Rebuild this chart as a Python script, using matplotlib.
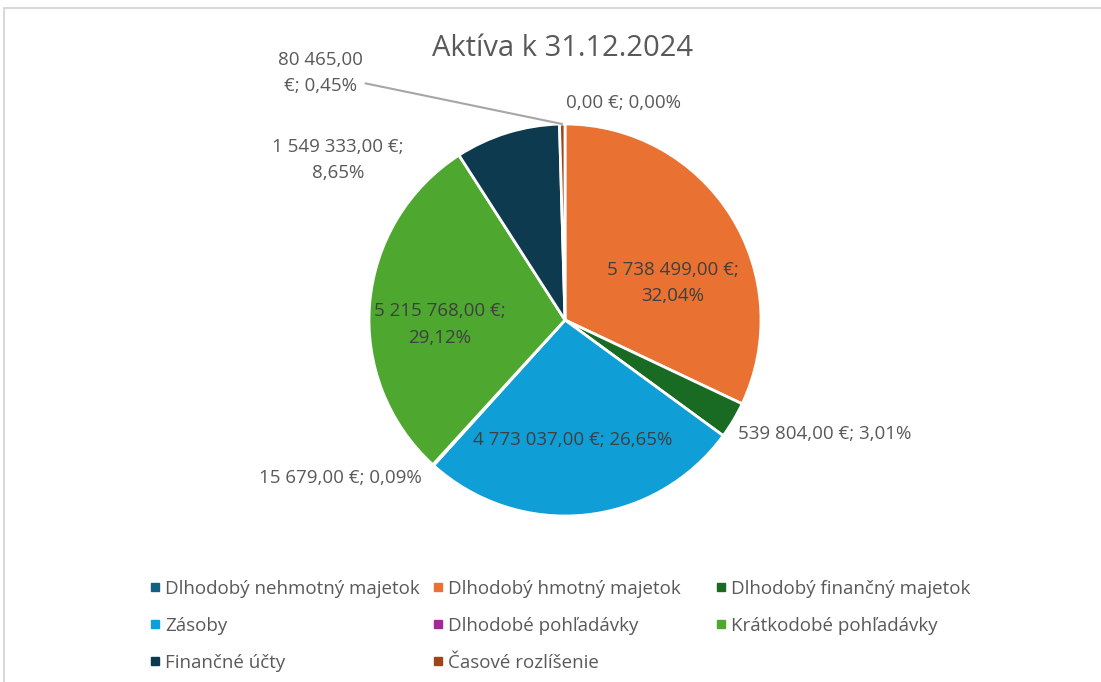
import numpy as np
import matplotlib
matplotlib.use("Agg")
import matplotlib.pyplot as plt
from matplotlib.lines import Line2D
from matplotlib.patches import Rectangle

# data
categories = ["Dlhodobý nehmotný majetok", "Dlhodobý hmotný majetok", "Dlhodobý finančný majetok",
              "Zásoby", "Dlhodobé pohľadávky", "Krátkodobé pohľadávky",
              "Finančné účty", "Časové rozlíšenie"]
values = [0.00, 5738499.00, 539804.00, 4773037.00, 15679.00, 5215768.00, 1549333.00, 80465.00]
colors = ["#156082", "#E97132", "#196B24", "#0F9ED5", "#A02B93", "#4EA72E", "#0E3A4F", "#A0441A"]
title = "Aktíva k 31.12.2024"

plt.rcParams['font.family'] = ['Open Sans', 'DejaVu Sans']
W, H = 1101, 682
fig = plt.figure(figsize=(W / 100, H / 100), dpi=100)
ax = fig.add_axes([0, 0, 1, 1])

cx, cy, R = 565, H - 320, 196
wedges, _ = ax.pie(values, colors=colors, startangle=90, counterclock=False,
                   center=(cx, cy), radius=R, frame=True,
                   wedgeprops=dict(edgecolor="white", linewidth=2))
ax.set_xlim(0, W)
ax.set_ylim(0, H)
ax.set_aspect('equal')
ax.axis('off')

total = sum(values)


def fmt(v):
    s = f"{v:,.2f}".replace(",", " ").replace(".", ",")
    return s + " €"


def pct(v):
    return f"{100 * v / total:.2f}".replace(".", ",") + "%"


# label placement per slice: (radial factor, dx px, dy px (down), ha, layout, inside)
place = {
    0: (1.0, 58, -21, "center", "one", False),
    1: (0.58, 12, 24, "center", "two", True),
    2: (1.0, 5, 14, "left", "one", False),
    3: (0.61, -5, 1, "center", "one", True),
    4: (1.0, -11, 13, "right", "one", False),
    5: (0.64, 0, 15, "center", "two", True),
    6: (1.0, -169, 27, "center", "two", False),
    7: (1.0, -242, -51, "center", "split", False),
}

fs = 13.5
cum = 0.0
for i, v in enumerate(values):
    mid = (cum + v / 2) / total
    cum += v
    rf, dx, dy, ha, lay, inside = place[i]
    ang = np.deg2rad(mid * 360)
    ex = cx + R * np.sin(ang)
    ey = cy + R * np.cos(ang)
    x = cx + rf * R * np.sin(ang) + dx
    y = cy + rf * R * np.cos(ang) - dy
    if lay == "split":
        s = fmt(v)
        txt = s[:-2] + "\n€; " + pct(v)
    elif lay == "two":
        txt = fmt(v) + ";\n" + pct(v)
    else:
        txt = fmt(v) + "; " + pct(v)
    col = "#404040" if inside else "#595959"
    if lay == "split":
        ax.annotate(txt, xy=(ex, ey), xytext=(x, y),
                    ha=ha, va="center", fontsize=fs, color=col, linespacing=1.6,
                    arrowprops=dict(arrowstyle="-", color="#A6A6A6", lw=1.5,
                                    shrinkA=0, shrinkB=0, relpos=(1.0, 0.28)))
    else:
        ax.text(x, y, txt, ha=ha, va="center", fontsize=fs, color=col,
                linespacing=1.6, multialignment="center")

fig.text(563 / W, 1 - 49 / H, title, ha="center", va="center", fontsize=21, color="#595959")

# legend: 3 equal-width columns, filled row by row like the reference
handles = [Line2D([], [], marker="s", linestyle="none", markersize=6, color=c) for c in colors]
col_w = 283
for j in range(3):
    lg = fig.legend(handles[j::3], categories[j::3], loc="upper left",
                    bbox_to_anchor=((150 + j * col_w) / W, 1 - 580 / H),
                    frameon=False, fontsize=fs, labelcolor="#595959",
                    handlelength=0.5, handletextpad=0.3, borderpad=0,
                    borderaxespad=0, labelspacing=1.0)

fig.patches.append(Rectangle((4 / W, -0.1), 1.2, 1 - 8 / H + 0.1, transform=fig.transFigure,
                             fill=False, edgecolor="#D9D9D9", linewidth=1.5))

fig.savefig("out.png", dpi=100)
